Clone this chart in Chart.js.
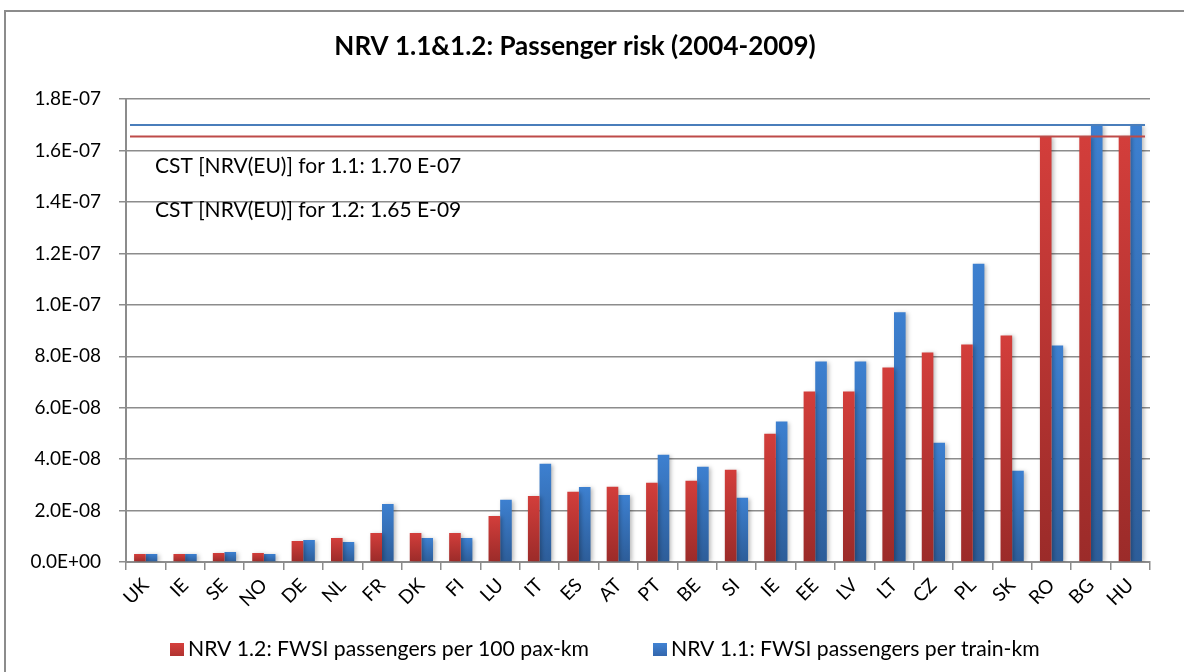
<!DOCTYPE html>
<html>
<head>
<meta charset="utf-8">
<script src="https://cdn.jsdelivr.net/npm/chart.js@4/dist/chart.umd.min.js"></script>
<style>
  html, body { margin: 0; padding: 0; background: #fff; }
  #frame { position: absolute; left: 4px; top: 10px; width: 1300px; height: 800px;
           border-left: 2px solid #8c8c8c; border-top: 2px solid #8c8c8c; }
  #wrap { position: absolute; left: 0; top: 0; width: 1184px; height: 672px; }
</style>
</head>
<body>
<div id="frame"></div>
<div id="wrap"><canvas id="canvas" width="1184" height="672"></canvas></div>
<script>
"use strict"
// paesi sull'asse x
let categories = ["UK","IE","SE","NO","DE","NL","FR","DK","FI","LU","IT","ES","AT","PT","BE","SI","IE","EE","LV","LT","CZ","PL","SK","RO","BG","HU"];
// NRV 1.2 (barre rosse)
let nrv12 = [3.1e-9,3.1e-9,3.5e-9,3.5e-9,8.2e-9,9.3e-9,1.13e-8,1.13e-8,1.13e-8,1.79e-8,2.57e-8,2.73e-8,2.93e-8,3.08e-8,3.16e-8,3.59e-8,4.99e-8,6.63e-8,6.63e-8,7.56e-8,8.15e-8,8.46e-8,8.81e-8,1.655e-7,1.655e-7,1.655e-7];
// NRV 1.1 (barre blu)
let nrv11 = [3.1e-9,3.1e-9,3.9e-9,3.1e-9,8.6e-9,7.8e-9,2.26e-8,9.3e-9,9.3e-9,2.42e-8,3.82e-8,2.92e-8,2.61e-8,4.17e-8,3.7e-8,2.5e-8,5.46e-8,7.8e-8,7.8e-8,9.71e-8,4.64e-8,1.16e-7,3.55e-8,8.42e-8,1.70e-7,1.70e-7];
// valori CST di riferimento (linee orizzontali)
let cstValues = [1.70e-7, 1.655e-7];
let cstColors = ["#4a7ebb", "#be4b48"];
let cstLabels = ["CST [NRV(EU)] for 1.1: 1.70 E-07", "CST [NRV(EU)] for 1.2: 1.65 E-09"];
// colori legenda
let legendColors = ["#cd3b38", "#3b78c7"];
// tick asse y
let yMin = 0, yMax = 1.8e-7, yStep = 2e-8;

const FONT = "Lato";

function fmtExp(v) {
    let parts = v.toExponential(1).toUpperCase().split("E");
    let e = parts[1];
    let sign = e[0] === "-" ? "-" : "+";
    let digits = e.replace("-", "").replace("+", "").padStart(2, "0");
    return parts[0] + "E" + sign + digits;
}

function barFill(top, bottom) {
    return function(ctx) {
        if (ctx.type !== "data" || !ctx.chart.chartArea) return top;
        let y = ctx.chart.scales.y;
        let y0 = y.getPixelForValue(ctx.raw);
        let y1 = y.getPixelForValue(0);
        if (!isFinite(y0) || y1 - y0 < 1) return top;
        let g = ctx.chart.ctx.createLinearGradient(0, y0, 0, y1);
        g.addColorStop(0, top);
        g.addColorStop(1, bottom);
        return g;
    };
}

// ombra leggera sotto le barre
let shadowPlugin = {
    id: "shadow",
    beforeDatasetsDraw(chart) {
        let c = chart.ctx;
        c.save();
        c.shadowColor = "rgba(0,0,0,0.28)";
        c.shadowBlur = 4;
        c.shadowOffsetX = 2;
        c.shadowOffsetY = 1;
    },
    afterDatasetsDraw(chart) {
        chart.ctx.restore();
    }
};

// linee CST e testi
let cstPlugin = {
    id: "cst",
    afterDatasetsDraw(chart) {
        let c = chart.ctx;
        let a = chart.chartArea;
        let y = chart.scales.y;
        c.save();
        cstValues.forEach(function(v, i) {
            let py = y.getPixelForValue(v);
            c.strokeStyle = cstColors[i];
            c.lineWidth = 2;
            c.beginPath();
            c.moveTo(a.left + 4, py);
            c.lineTo(a.right - 5, py);
            c.stroke();
        });
        c.fillStyle = "#000";
        c.font = "21px " + FONT;
        c.textBaseline = "middle";
        c.fillText(cstLabels[0], a.left + 29, a.top + 67);
        c.fillText(cstLabels[1], a.left + 29, a.top + 111);
        c.restore();
    }
};

// legenda disegnata a mano (sotto al grafico)
let legendPlugin = {
    id: "myLegend",
    afterDraw(chart) {
        let c = chart.ctx;
        c.save();
        c.font = "21.2px " + FONT;
        c.textBaseline = "middle";
        let x = 170;
        let yc = 649.5;
        chart.data.datasets.forEach(function(ds, i) {
            let g = c.createLinearGradient(0, yc - 6.5, 0, yc + 6.5);
            g.addColorStop(0, i === 0 ? "#d6403d" : "#4183d3");
            g.addColorStop(1, i === 0 ? "#b03330" : "#3366ad");
            c.fillStyle = g;
            c.fillRect(x, yc - 6.5, 14, 13);
            c.fillStyle = "#000";
            c.fillText(ds.label, x + 18, yc);
            x += 18 + c.measureText(ds.label).width + 64;
        });
        c.restore();
    }
};

let chartOptions = {
    type: "bar",
    data: {
        labels: categories,
        datasets: [{
            label: "NRV 1.2: FWSI passengers per 100 pax-km",
            data: nrv12,
            backgroundColor: barFill("#d33e3b", "#9b2b29"),
            borderWidth: 0,
            barPercentage: 1,
            categoryPercentage: 0.59
        }, {
            label: "NRV 1.1: FWSI passengers per train-km",
            data: nrv11,
            backgroundColor: barFill("#3d80d0", "#2d5d99"),
            borderWidth: 0,
            barPercentage: 1,
            categoryPercentage: 0.59
        }]
    },
    options: {
        responsive: false,
        animation: false,
        layout: { padding: { left: 0, right: 34, top: 0, bottom: 44 } },
        plugins: {
            title: {
                display: true,
                text: "NRV 1.1&1.2: Passenger risk (2004-2009)",
                color: "#000",
                font: { family: FONT, size: 26, weight: "bold" },
                padding: { top: 31, bottom: 37 }
            },
            legend: { display: false },
            tooltip: { enabled: false }
        },
        scales: {
            x: {
                grid: { drawOnChartArea: false, drawTicks: true, tickLength: 8, color: "#8c8c8c", lineWidth: 1.5, offset: true },
                border: { color: "#8c8c8c", width: 2 },
                ticks: { color: "#000", font: { family: FONT, size: 19 }, minRotation: 45, maxRotation: 45, autoSkip: false, padding: 4 },
                afterFit: function(s) { s.height = 66; }
            },
            y: {
                min: yMin,
                max: yMax,
                grid: { color: "#8c8c8c", lineWidth: 1.5, tickLength: 7 },
                border: { color: "#8c8c8c", width: 2 },
                ticks: {
                    stepSize: yStep,
                    color: "#000",
                    font: { family: FONT, size: 19 },
                    padding: 18,
                    callback: function(v) { return fmtExp(v); }
                },
                afterFit: function(s) { s.width = 126; }
            }
        }
    },
    plugins: [shadowPlugin, cstPlugin, legendPlugin]
};

let canvas = document.getElementById("canvas");
let chart = new Chart(canvas, chartOptions);
</script>
</body>
</html>
